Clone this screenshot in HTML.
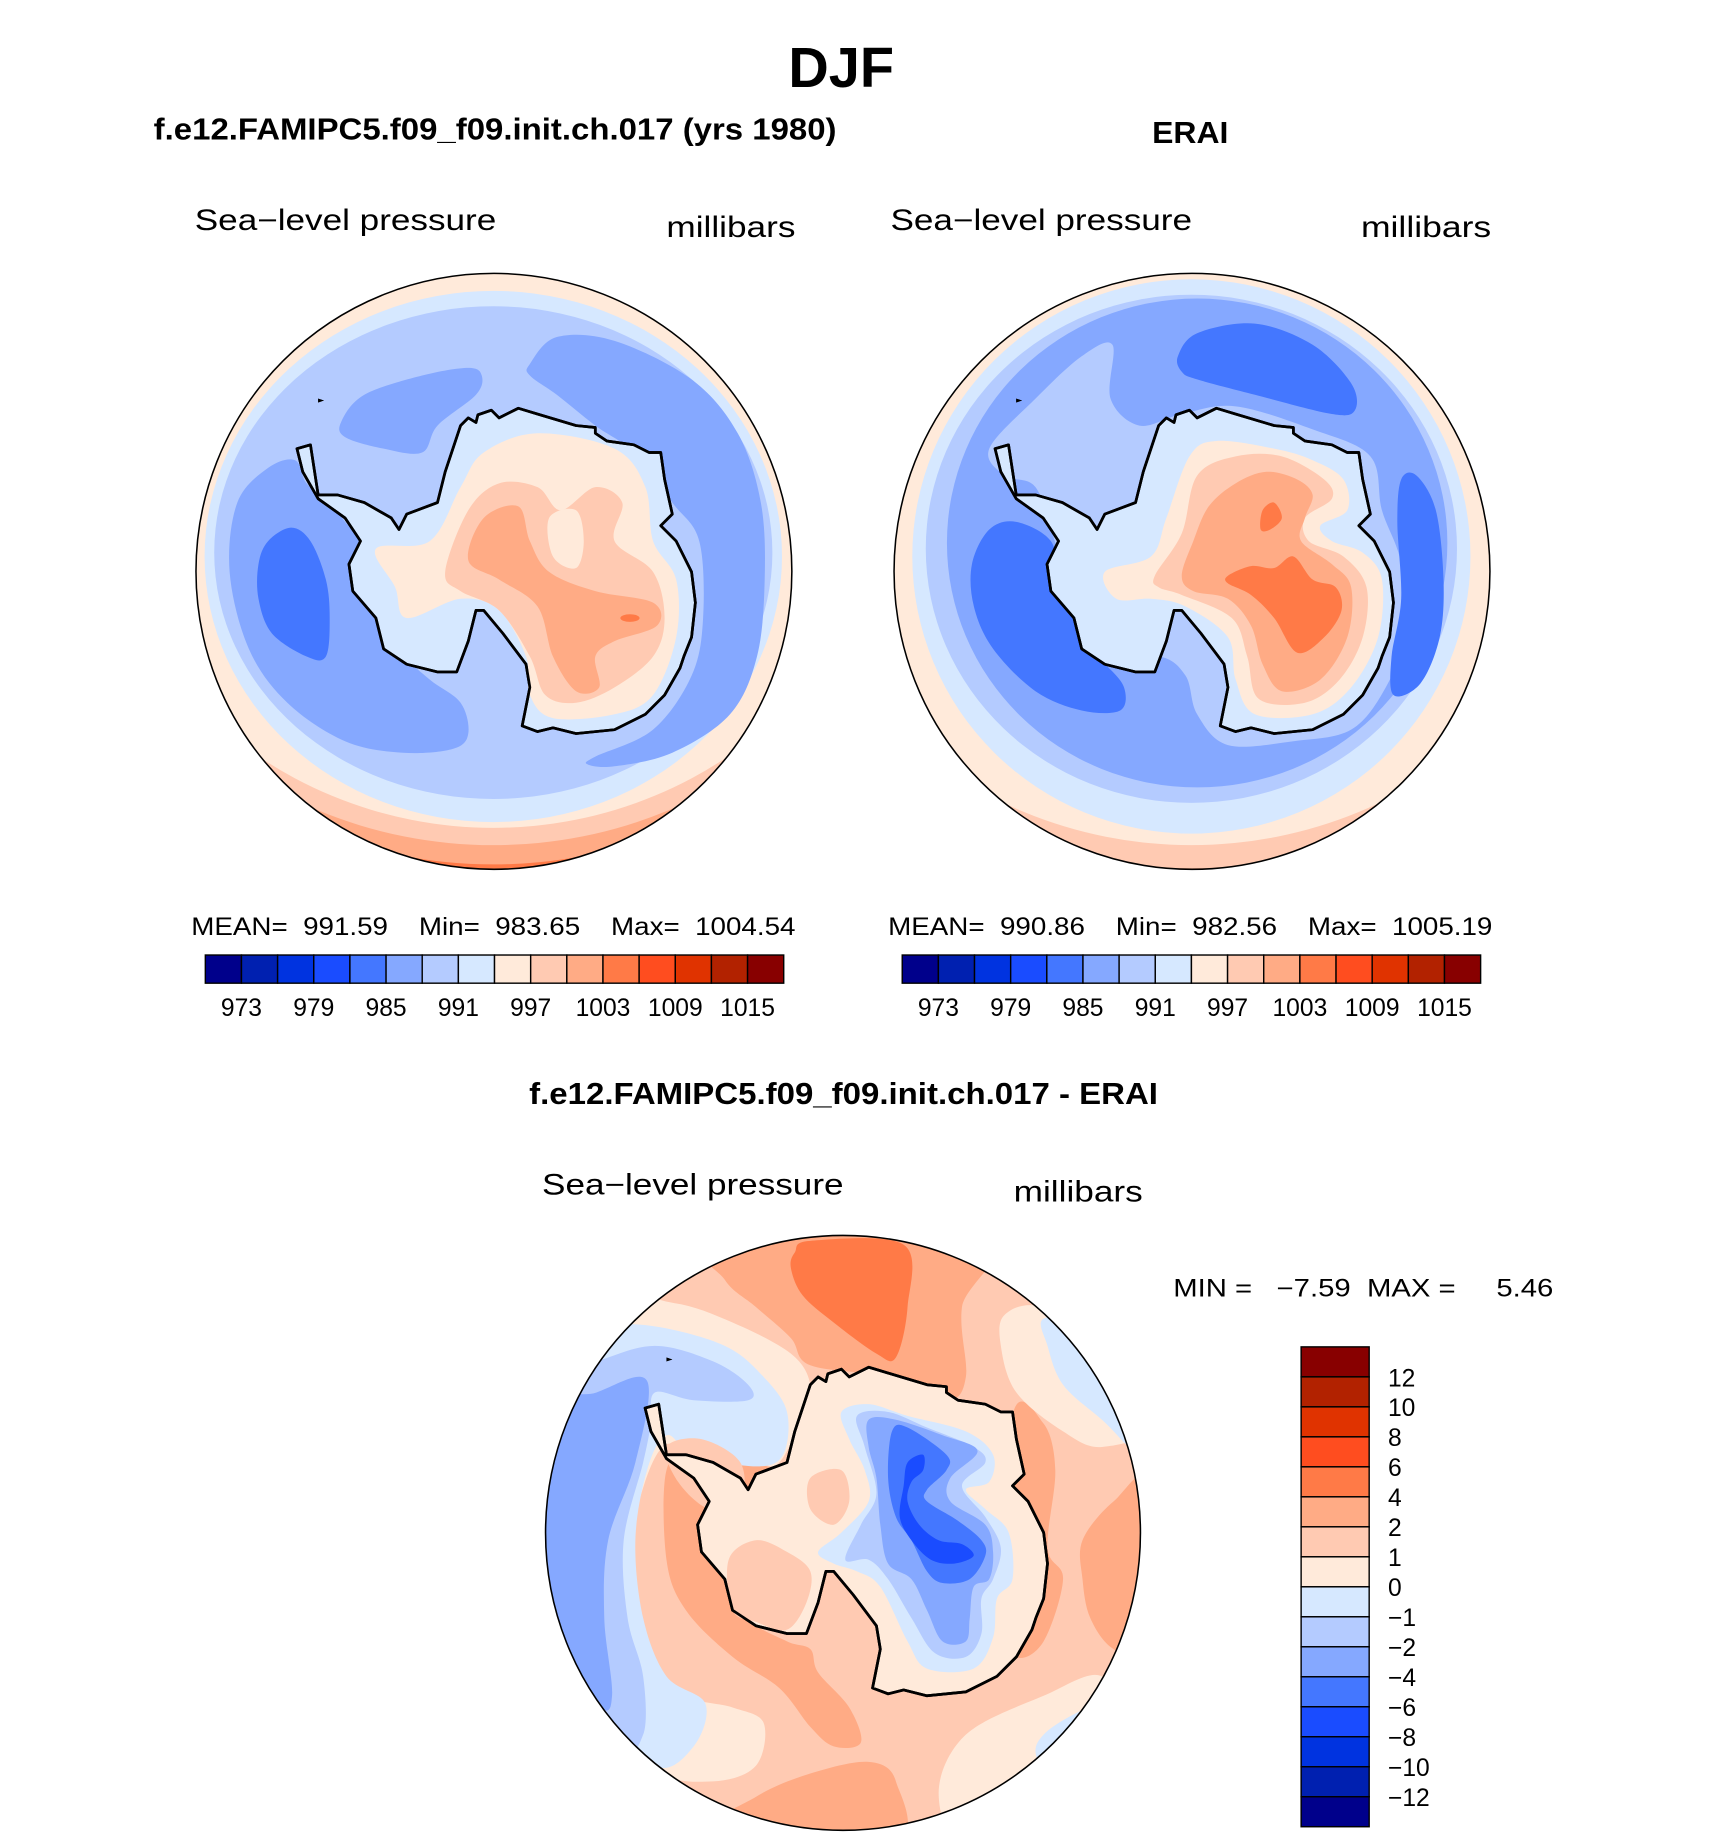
<!DOCTYPE html>
<html><head><meta charset="utf-8"><style>
html,body{margin:0;padding:0;background:#fff;}
svg{display:block;}
text{font-family:"Liberation Sans",sans-serif;fill:#000;white-space:pre;}
.b{font-weight:bold;}
</style></head><body>
<svg id="root" width="1710" height="1839" viewBox="0 0 1457.5 1567.4" preserveAspectRatio="xMinYMin meet" xmlns="http://www.w3.org/2000/svg">
<defs>
<clipPath id="clipL" clipPathUnits="userSpaceOnUse"><circle cx="786.6" cy="778.7" r="774"/></clipPath>
<clipPath id="clipB" clipPathUnits="userSpaceOnUse"><circle cx="784" cy="781" r="765"/></clipPath>
</defs>
<text class="b" x="717" y="74" font-size="48" text-anchor="middle" textLength="90" lengthAdjust="spacingAndGlyphs">DJF</text>
<text class="b" x="131" y="119" font-size="26" textLength="582" lengthAdjust="spacingAndGlyphs">f.e12.FAMIPC5.f09_f09.init.ch.017 (yrs 1980)</text>
<text class="b" x="982" y="122" font-size="26" textLength="65" lengthAdjust="spacingAndGlyphs">ERAI</text>
<text x="166" y="196" font-size="25" textLength="257" lengthAdjust="spacingAndGlyphs">Sea−level pressure</text>
<text x="568" y="202" font-size="25" textLength="110" lengthAdjust="spacingAndGlyphs">millibars</text>
<text x="759" y="196" font-size="25" textLength="257" lengthAdjust="spacingAndGlyphs">Sea−level pressure</text>
<text x="1160" y="202" font-size="25" textLength="111" lengthAdjust="spacingAndGlyphs">millibars</text>
<text x="163" y="797" font-size="21" textLength="515" lengthAdjust="spacingAndGlyphs" xml:space="preserve">MEAN=  991.59    Min=  983.65    Max=  1004.54</text>
<text x="757" y="797" font-size="21" textLength="515" lengthAdjust="spacingAndGlyphs" xml:space="preserve">MEAN=  990.86    Min=  982.56    Max=  1005.19</text>
<text class="b" x="451" y="941" font-size="26" textLength="536" lengthAdjust="spacingAndGlyphs">f.e12.FAMIPC5.f09_f09.init.ch.017 - ERAI</text>
<text x="462" y="1018" font-size="25" textLength="257" lengthAdjust="spacingAndGlyphs">Sea−level pressure</text>
<text x="864" y="1024" font-size="25" textLength="110" lengthAdjust="spacingAndGlyphs">millibars</text>
<text x="1000" y="1105" font-size="21" textLength="324" lengthAdjust="spacingAndGlyphs" xml:space="preserve">MIN =   −7.59  MAX =     5.46</text>
<g id="mapL" transform="translate(162.9,231.5) scale(0.3281)"></g>
<g id="mapR" transform="translate(757.9,231.5) scale(0.3281)"></g>
<g id="mapB" transform="translate(458.7,1047.7) scale(0.3314)"></g>
<g id="cbars"></g>
</svg>
<script>
// colour scale data
const fillColors = ["#00008b","#0020b0","#0033e0","#1a4cff","#4477ff","#85a8ff","#b4cbff","#d6e8ff","#ffeada","#ffcab2","#ffab85","#ff7a47","#ff4d1f","#e03300","#b22200","#880000"];
const absLabels = ["973","979","985","991","997","1003","1009","1015"];
const absLabelIdx = [1,3,5,7,9,11,13,15];
const diffLabels = ["12","10","8","6","4","2","1","0","−1","−2","−4","−6","−8","−10","−12"];

const NS="http://www.w3.org/2000/svg";
const C={P0:"#ffeada",P1:"#ffcab2",P2:"#ffab85",P3:"#ff7a47",B1:"#d6e8ff",B2:"#b4cbff",B3:"#85a8ff",B4:"#4477ff",B5:"#1a4cff"};
function mk(tag,attrs,parent){const e=document.createElementNS(NS,tag);for(const k in attrs)e.setAttribute(k,attrs[k]);parent.appendChild(e);return e;}
function smooth(p){const n=p.length;let d="M"+p[0][0]+","+p[0][1];
 for(let i=0;i<n;i++){const p0=p[(i-1+n)%n],p1=p[i],p2=p[(i+1)%n],p3=p[(i+2)%n];
  const c1=[p1[0]+(p2[0]-p0[0])/6,p1[1]+(p2[1]-p0[1])/6],c2=[p2[0]-(p3[0]-p1[0])/6,p2[1]-(p3[1]-p1[1])/6];
  d+="C"+c1[0].toFixed(1)+","+c1[1].toFixed(1)+" "+c2[0].toFixed(1)+","+c2[1].toFixed(1)+" "+p2[0]+","+p2[1];}
 return d+"Z";}
function blob(g,pts,col,name){const e=mk("path",{d:smooth(pts),fill:col},g);
 
 }
function circ(g,cx,cy,r,col,name){const e=mk("circle",{cx:cx,cy:cy,r:r,fill:col},g);
 
 }
function ell(g,cx,cy,rx,ry,col,name){const e=mk("ellipse",{cx:cx,cy:cy,rx:rx,ry:ry,fill:col},g);
 
 }

const coast=[[310,450],[330,580],[380,580],[450,600],[520,640],[540,670],[560,630],[640,600],[660,520],[700,400],[720,380],[740,392],[745,372],[780,360],[800,380],[850,355],[900,370],[1000,400],[1050,405],[1050,420],[1080,440],[1150,450],[1190,470],[1220,470],[1230,540],[1250,630],[1220,660],[1260,700],[1300,780],[1310,860],[1300,950],[1280,1000],[1270,1030],[1230,1100],[1180,1150],[1100,1190],[1000,1200],[940,1185],[900,1195],[860,1180],[870,1130],[880,1080],[870,1020],[810,940],[760,880],[740,880],[720,960],[690,1040],[640,1040],[560,1020],[500,980],[480,900],[420,830],[410,760],[440,700],[400,640],[330,590],[290,520],[275,460]];
function coastline(g,fill){
 const d="M"+coast.map(p=>p.join(",")).join("L")+"Z";
 if(fill){const f=mk("path",{d:d,fill:fill},g);}
 const s=mk("path",{d:d,fill:"none",stroke:"#000","stroke-width":7,"stroke-linejoin":"round"},g);
 
 
 const is=mk("path",{d:"M330,330L345,335L330,340Z",fill:"#000"},g);
 
 
}
function outline(g,cx,cy,r){const o=mk("circle",{cx:cx,cy:cy,r:r,fill:"none",stroke:"#000","stroke-width":4},g);
 
 }

// LEFT MAP
(function(){const root=document.getElementById("mapL");const g=mk("g",{"clip-path":"url(#clipL)"},root);
 circ(g,786,779,780,C.P3,"band-1003");
 circ(g,785,300,1240,C.P2,"band-1000");
 circ(g,785,300,1190,C.P1,"band-997");
 circ(g,785,350,1095,C.P0,"band-994");
 ell(g,785,740,750,690,C.B1,"band-991");
 ell(g,785,730,725,640,C.B2,"band-988");
 blob(g,[[880,240],[950,170],[1100,180],[1300,280],[1420,420],[1480,600],[1490,800],[1470,1000],[1400,1150],[1250,1250],[1100,1285],[1030,1280],[1050,1260],[1200,1190],[1300,1050],[1330,900],[1320,700],[1250,600],[1150,470],[1050,400],[950,320],[880,270]],C.B3,"low-985-east");
 blob(g,[[100,780],[120,600],[200,510],[270,490],[300,550],[360,600],[400,650],[440,700],[470,800],[520,900],[560,1000],[620,1060],[700,1120],[720,1200],[680,1240],[550,1250],[400,1220],[250,1120],[150,980]],C.B3,"low-985-west");
 blob(g,[[390,390],[450,320],[600,270],[720,250],[755,270],[740,320],[640,400],[600,470],[500,460],[400,430]],C.B3,"low-985-north");
 blob(g,[[175,760],[200,700],[260,665],[310,700],[350,800],[360,900],[350,1000],[300,1000],[210,940],[175,850]],C.B4,"low-982-west");
 coastline(g,C.B1);
 blob(g,[[480,720],[620,700],[700,560],[760,470],[900,420],[1100,460],[1180,560],[1200,700],[1260,800],[1260,950],[1200,1100],[1100,1150],[940,1160],[880,1100],[870,1000],[800,880],[700,850],[560,900],[530,820]],C.P0,"plateau-994");
 blob(g,[[660,780],[720,620],[800,550],[900,560],[960,620],[1050,560],[1120,600],[1100,700],[1200,780],[1230,900],[1200,1000],[1100,1080],[1000,1120],[920,1100],[880,1000],[800,880],[700,830]],C.P1,"plateau-997");
 blob(g,[[930,640],[1000,620],[1020,700],[1000,770],[940,740]],C.P0,"plateau-hole");
 blob(g,[[720,750],[760,640],[850,610],[880,700],[930,780],[1050,830],[1200,860],[1210,920],[1100,960],[1050,1000],[1060,1080],[1000,1090],[940,1000],[900,870],[800,800]],C.P2,"plateau-1000");
 ell(g,1140,900,25,10,C.P3,"plateau-max");
 coastline(g,null);
 outline(root,786.6,778.7,774);
})();

// RIGHT MAP
(function(){const root=document.getElementById("mapR");const g=mk("g",{"clip-path":"url(#clipL)"},root);
 circ(g,786,779,780,C.P2,"band-1000");
 circ(g,785,300,1250,C.P1,"band-997");
 circ(g,785,350,1140,C.P0,"band-994");
 ell(g,785,740,725,720,C.B1,"band-991");
 ell(g,785,720,690,660,C.B2,"band-988");
 ell(g,800,705,650,635,C.B3,"band-985");
 blob(g,[[260,460],[380,330],[500,220],[580,190],[575,330],[650,400],[760,370],[900,350],[1100,410],[1250,480],[1280,620],[1330,760],[1335,950],[1290,1080],[1200,1190],[1050,1220],[880,1230],[800,1150],[770,1050],[700,1000],[560,1020],[480,880],[430,700],[380,560],[300,530]],C.B2,"ridge-988");
 blob(g,[[750,220],[800,160],[950,135],[1100,190],[1200,290],[1210,360],[1150,370],[950,320],[800,280],[760,260]],C.B4,"low-982-north");
 blob(g,[[215,760],[260,670],[330,650],[420,700],[440,800],[480,900],[500,980],[560,1020],[610,1080],[600,1140],[500,1140],[380,1090],[270,980],[220,870]],C.B4,"low-982-west");
 blob(g,[[1330,540],[1370,530],[1420,620],[1440,800],[1430,950],[1380,1070],[1310,1100],[1305,1000],[1330,850],[1320,650]],C.B4,"low-982-east");
 coastline(g,C.B1);
 blob(g,[[560,780],[680,740],[720,640],[780,480],[850,440],[1000,460],[1100,490],[1180,540],[1190,620],[1120,660],[1150,700],[1230,730],[1280,800],[1270,950],[1200,1080],[1100,1150],[950,1150],[900,1060],[880,950],[770,870],[680,850],[590,850]],C.P0,"plateau-994");
 blob(g,[[690,790],[760,680],[800,530],[900,480],[1020,480],[1130,540],[1150,590],[1080,640],[1090,700],[1180,740],[1240,820],[1230,950],[1170,1060],[1080,1120],[960,1110],[930,1000],[890,900],[760,840],[700,820]],C.P1,"plateau-997");
 blob(g,[[760,790],[790,700],[830,610],[900,550],[980,520],[1060,540],[1100,580],[1080,640],[1070,700],[1150,760],[1200,820],[1190,950],[1120,1060],[1020,1090],[970,1020],[940,920],[880,850],[790,830]],C.P2,"plateau-1000");
 blob(g,[[880,790],[940,765],[1000,770],[1050,740],[1100,800],[1160,820],[1175,880],[1130,950],[1060,990],[1000,900],[940,840],[880,810]],C.P3,"plateau-1003");
 blob(g,[[970,620],[1000,600],[1020,640],[990,670],[965,670]],C.P3,"plateau-1003-north");
 coastline(g,null);
 outline(root,786.6,778.7,774);
})();

// DIFFERENCE MAP
(function(){const root=document.getElementById("mapB");const g=mk("g",{"clip-path":"url(#clipB)"},root);
 circ(g,784,781,780,C.P1,"diff-2");
 blob(g,[[430,0],[1150,0],[1090,200],[1100,380],[1050,440],[900,380],[700,350],[650,280],[560,200],[480,130]],C.P2,"diff-4-north");
 blob(g,[[660,60],[700,30],[940,40],[950,200],[920,330],[870,320],[760,240],[680,170],[650,100]],C.P3,"diff-6-north");
 blob(g,[[330,620],[400,580],[560,600],[620,650],[600,800],[540,900],[540,1000],[640,1060],[700,1080],[720,1140],[800,1230],[830,1320],[760,1330],[700,1280],[620,1180],[500,1100],[380,980],[330,850]],C.P2,"diff-4-west");
 blob(g,[[1400,800],[1480,700],[1580,650],[1580,1100],[1480,1080],[1420,1000],[1400,900]],C.P2,"diff-4-east");
 blob(g,[[1220,480],[1300,500],[1330,620],[1310,820],[1350,900],[1300,1060],[1230,1100],[1200,1000]],C.P2,"diff-4-coast");
 blob(g,[[440,1560],[560,1460],[700,1400],[850,1370],[920,1420],[910,1580]],C.P2,"diff-4-south");
 blob(g,[[200,200],[350,190],[500,240],[650,320],[700,400],[680,480],[620,600],[560,600],[400,570],[320,560],[260,700],[230,900],[260,1100],[380,1200],[500,1230],[580,1270],[560,1380],[450,1420],[300,1390],[150,1200],[50,900],[100,500]],C.P0,"diff-1-west");
 blob(g,[[1200,220],[1300,200],[1500,300],[1580,500],[1450,560],[1350,520],[1230,420],[1190,300]],C.P0,"diff-1-ne");
 blob(g,[[1100,1300],[1300,1200],[1450,1150],[1500,1300],[1350,1500],[1100,1580],[1030,1450]],C.P0,"diff-1-se");
 blob(g,[[-20,300],[150,250],[300,250],[480,300],[580,380],[640,470],[630,580],[560,610],[400,580],[330,530],[280,620],[250,800],[270,1000],[330,1150],[430,1220],[400,1330],[300,1380],[150,1200],[-20,900]],C.B1,"diff-m1-west");
 blob(g,[[1300,230],[1420,240],[1580,400],[1580,600],[1450,490],[1350,400],[1310,300]],C.B1,"diff-m1-ne");
 blob(g,[[1300,1300],[1440,1220],[1580,1200],[1580,1500],[1400,1530],[1290,1380]],C.B1,"diff-m1-se");
 blob(g,[[-20,400],[150,340],[300,300],[450,340],[540,400],[540,440],[400,440],[300,420],[290,500],[270,600],[220,800],[230,1000],[270,1150],[270,1300],[200,1320],[-20,1000]],C.B2,"diff-m2-west");
 blob(g,[[-20,500],[150,420],[280,390],[250,600],[180,800],[170,1000],[190,1200],[150,1230],[-20,1100]],C.B3,"diff-m4-west");
 blob(g,[[330,560],[420,540],[520,600],[520,700],[440,720],[360,650]],C.P1,"diff-2-peninsula");
 coastline(g,C.P0);
 blob(g,[[490,850],[560,800],[640,830],[700,880],[690,960],[640,1030],[560,1010],[500,980]],C.P1,"diff-2-coast-west");
 blob(g,[[700,640],[780,620],[800,700],[760,760],[700,720]],C.P1,"diff-2-interior");
 blob(g,[[780,470],[850,450],[950,480],[1100,520],[1170,580],[1160,650],[1100,670],[1150,720],[1210,780],[1220,900],[1180,950],[1170,1050],[1120,1130],[1000,1130],[950,1060],[880,920],[820,880],[760,860],[720,830],[780,780],[850,700],[840,620],[800,540]],C.B1,"diff-m1-interior");
 blob(g,[[820,480],[900,470],[1000,510],[1120,560],[1150,600],[1090,660],[1150,740],[1190,820],[1170,900],[1140,950],[1140,1040],[1100,1100],[1020,1090],[960,1000],[900,900],[850,850],[790,850],[830,760],[870,680],[840,560]],C.B2,"diff-m2-interior");
 blob(g,[[850,490],[920,490],[1040,530],[1130,570],[1060,640],[1060,700],[1150,760],[1170,830],[1160,900],[1120,920],[1110,1000],[1100,1060],[1040,1060],[1000,980],[960,900],[900,860],[880,760],[870,640],[850,560]],C.B3,"diff-m4-interior");
 blob(g,[[910,520],[950,510],[1050,580],[1050,620],[1000,670],[1000,700],[1080,750],[1140,800],[1150,840],[1110,900],[1040,910],[1000,880],[960,800],[920,740],[900,640]],C.B4,"diff-m6-interior");
 blob(g,[[950,600],[990,580],[990,620],[960,650],[950,700],[980,760],[1030,800],[1090,810],[1120,840],[1070,860],[1010,850],[960,800],[930,740],[940,660]],C.B5,"diff-m8-interior");
 coastline(g,null);
 outline(root,784,781,765);
})();

// COLOUR BARS
(function(){const cb=document.getElementById("cbars");
 function hbar(x0,name){const w=(668-175)/fillColors.length;const bg=mk("g",{},cb);
  
  
  fillColors.forEach((c,i)=>{const r=mk("rect",{x:x0+i*w,y:814,width:w,height:24,fill:c,stroke:"#000","stroke-width":1.2},bg);
   
   });
  absLabels.forEach((t,k)=>{const tx=mk("text",{x:x0+absLabelIdx[k]*w,y:866,"font-size":21,"text-anchor":"middle"},bg);tx.textContent=t;
   
   });}
 hbar(175,"model-colorbar");hbar(769,"erai-colorbar");
 const vg=mk("g",{},cb);
 
 
 const h=(1557-1148)/fillColors.length;
 fillColors.slice().reverse().forEach((c,i)=>{const r=mk("rect",{x:1109,y:1148+i*h,width:58,height:h,fill:c,stroke:"#000","stroke-width":1.2},vg);
  
  });
 diffLabels.forEach((t,k)=>{const tx=mk("text",{x:1183,y:1148+(k+1)*h+8,"font-size":21},vg);tx.textContent=t;
  
  });
})();
</script>
</body></html>
